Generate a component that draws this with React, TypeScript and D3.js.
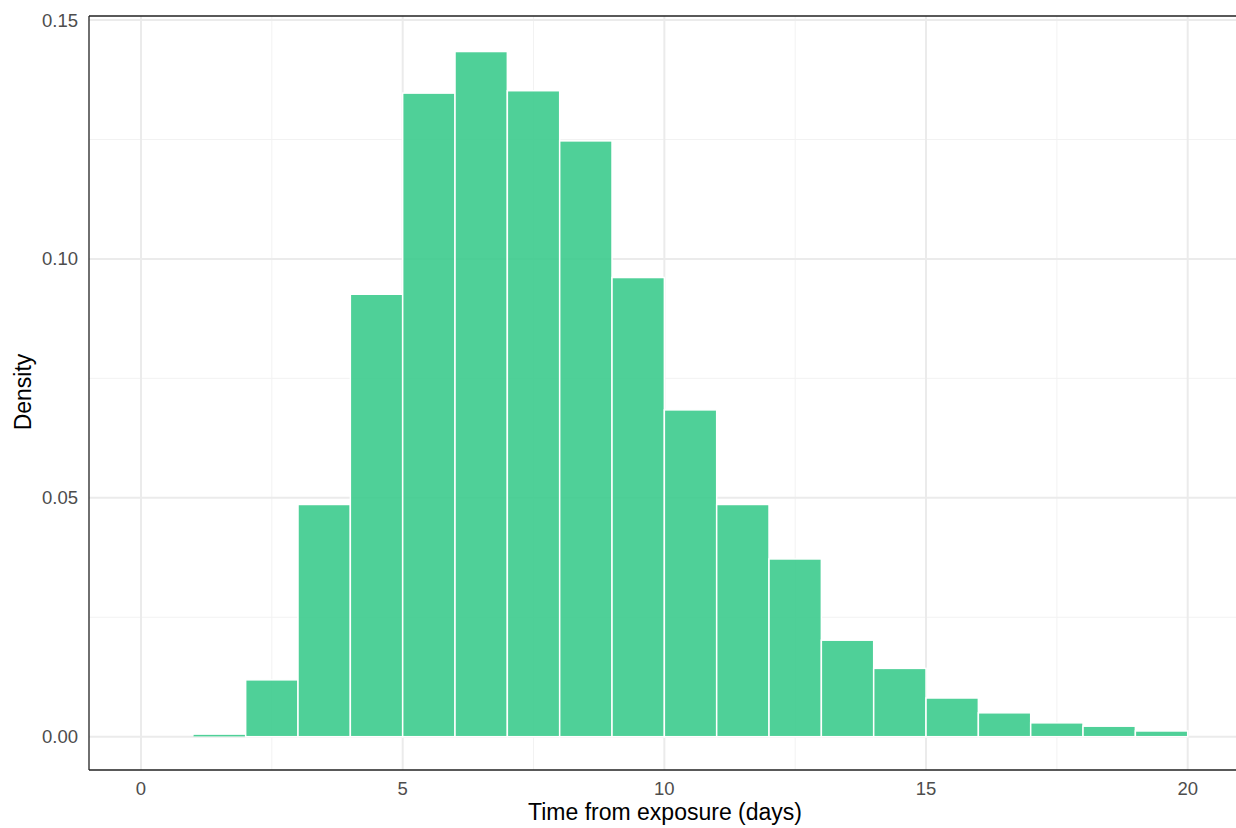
import React from "react";
import * as d3 from "d3";

const binStarts = [1, 2, 3, 4, 5, 6, 7, 8, 9, 10, 11, 12, 13, 14, 15, 16, 17, 18, 19];
const densities = [0.0004, 0.0119, 0.0486, 0.0926, 0.1347, 0.1434, 0.1352, 0.1247, 0.0961, 0.0684, 0.0486, 0.0372, 0.0202, 0.0143, 0.0081, 0.005, 0.0029, 0.0022, 0.0012];
const xTicks = [0, 5, 10, 15, 20];
const xMinor = [2.5, 7.5, 12.5, 17.5];
const yTicks = [0, 0.05, 0.1, 0.15];
const yMinor = [0.025, 0.075, 0.125];
const binWidth = 1;

export default function App() {
  const W = 1236, H = 828;
  const left = 89, top = 16, bottom = 770, right = 1260;
  const x = d3.scaleLinear().domain([0, 20]).range([141, 1187.7]);
  const y = d3.scaleLinear().domain([0, 0.15]).range([736.7, 20]);
  const fmt = d3.format(".2f");
  const font = "'Liberation Sans', Arial, Helvetica, sans-serif";
  return (
    <svg width={W} height={H} style={{ position: "absolute", left: 0, top: 0 }} fontFamily={font}>
      <rect x={0} y={0} width={W} height={H} fill="#fff" />
      <g>
        {yMinor.map((v) => (
          <line key={"ym" + v} x1={left} x2={right} y1={y(v)} y2={y(v)} stroke="#f2f2f2" strokeWidth={1} />
        ))}
        {xMinor.map((v) => (
          <line key={"xm" + v} x1={x(v)} x2={x(v)} y1={top} y2={bottom} stroke="#f2f2f2" strokeWidth={1} />
        ))}
        {yTicks.map((v) => (
          <line key={"yg" + v} x1={left} x2={right} y1={y(v)} y2={y(v)} stroke="#ebebeb" strokeWidth={2} />
        ))}
        {xTicks.map((v) => (
          <line key={"xg" + v} x1={x(v)} x2={x(v)} y1={top} y2={bottom} stroke="#ebebeb" strokeWidth={2} />
        ))}
      </g>
      <g>
        {binStarts.map((b, i) => (
          <rect
            key={b}
            x={x(b)}
            y={y(densities[i])}
            width={x(b + binWidth) - x(b)}
            height={Math.max(y(0) - y(densities[i]), 1.2)}
            fill="#3ccb8d"
            fillOpacity={0.9}
            stroke="#fff"
            strokeWidth={i === 0 ? 0.4 : 1.5}
          />
        ))}
      </g>
      <line x1={left} x2={left} y1={top} y2={bottom} stroke="#222" strokeWidth={1.3} />
      <line x1={left} x2={right} y1={bottom} y2={bottom} stroke="#222" strokeWidth={1.3} />
      <line x1={left} x2={right} y1={top} y2={top} stroke="#222" strokeWidth={1.3} />
      {xTicks.map((v) => (
        <text key={"xt" + v} x={x(v)} y={795} textAnchor="middle" fontSize={18.5} fill="#4d4d4d">
          {v}
        </text>
      ))}
      {yTicks.map((v) => (
        <text key={"yt" + v} x={78} y={y(v) + 6.5} textAnchor="end" fontSize={18.5} fill="#4d4d4d">
          {fmt(v)}
        </text>
      ))}
      <text x={665} y={820} textAnchor="middle" fontSize={23} fill="#000">
        Time from exposure (days)
      </text>
      <text transform={`translate(31,392) rotate(-90)`} textAnchor="middle" fontSize={23} fill="#000">
        Density
      </text>
    </svg>
  );
}
